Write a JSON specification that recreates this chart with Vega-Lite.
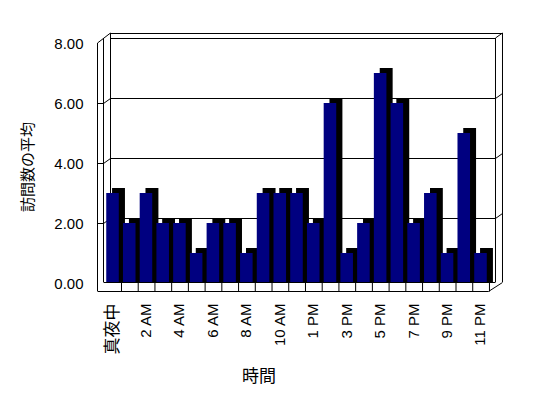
{
  "$schema": "https://vega.github.io/schema/vega-lite/v6.json",
  "width": 385,
  "height": 240,
  "autosize": "none",
  "padding": {"left": 110, "top": 38, "right": 53, "bottom": 120},
  "background": "white",
  "config": {
    "view": {"stroke": null},
    "font": "Liberation Sans, Noto Sans CJK JP",
    "rule": {"color": "black", "strokeWidth": 1}
  },
  "datasets": {
    "main": [
      {"hour": "真夜中", "visits": 3},
      {"hour": "1 AM", "visits": 2},
      {"hour": "2 AM", "visits": 3},
      {"hour": "3 AM", "visits": 2},
      {"hour": "4 AM", "visits": 2},
      {"hour": "5 AM", "visits": 1},
      {"hour": "6 AM", "visits": 2},
      {"hour": "7 AM", "visits": 2},
      {"hour": "8 AM", "visits": 1},
      {"hour": "9 AM", "visits": 3},
      {"hour": "10 AM", "visits": 3},
      {"hour": "11 AM", "visits": 3},
      {"hour": "1 PM", "visits": 2},
      {"hour": "2 PM", "visits": 6},
      {"hour": "3 PM", "visits": 1},
      {"hour": "4 PM", "visits": 2},
      {"hour": "5 PM", "visits": 7},
      {"hour": "6 PM", "visits": 6},
      {"hour": "7 PM", "visits": 2},
      {"hour": "8 PM", "visits": 3},
      {"hour": "9 PM", "visits": 1},
      {"hour": "10 PM", "visits": 5},
      {"hour": "11 PM", "visits": 1}
    ],
    "grid": [{"g": 2}, {"g": 4}, {"g": 6}, {"g": 8}],
    "inner": [{"g": 2}, {"g": 4}, {"g": 6}],
    "one": [{}]
  },
  "layer": [
    {
      "data": {"name": "main"},
      "mark": {"type": "bar", "color": "black", "y2Offset": 4},
      "encoding": {
        "x": {
          "field": "hour",
          "type": "nominal",
          "sort": null,
          "scale": {
            "type": "band",
            "domain": ["真夜中", "1 AM", "2 AM", "3 AM", "4 AM", "5 AM", "6 AM", "7 AM", "8 AM", "9 AM", "10 AM", "11 AM", "1 PM", "2 PM", "3 PM", "4 PM", "5 PM", "6 PM", "7 PM", "8 PM", "9 PM", "10 PM", "11 PM"],
            "paddingInner": 0.25,
            "paddingOuter": 0.134
          },
          "axis": {
            "offset": 13,
            "position": -6,
            "ticks": false,
            "domain": false,
            "grid": false,
            "labelAngle": -90,
            "labelPadding": 12,
            "labelFontSize": {"condition": {"test": "datum.value == '真夜中'", "value": 17}, "value": 15},
            "labelColor": "black",
            "labelOverlap": false,
            "labelExpr": "indexof(['真夜中','2 AM','4 AM','6 AM','8 AM','10 AM','1 PM','3 PM','5 PM','7 PM','9 PM','11 PM'], datum.value) >= 0 ? datum.label : ''",
            "title": "時間",
            "titleFontSize": 17,
            "titleFontWeight": "normal",
            "titleColor": "black",
            "titleX": 154.5,
            "titleY": 85.5,
            "titleAlign": "center",
            "titleBaseline": "middle",
            "titleAngle": 0
          }
        },
        "y": {
          "field": "visits",
          "type": "quantitative",
          "scale": {"domain": [0, 8], "nice": false},
          "axis": {
            "values": [0, 2, 4, 6, 8],
            "format": ".2f",
            "offset": 13,
            "position": 5,
            "ticks": false,
            "domain": false,
            "grid": false,
            "labelPadding": 14,
            "labelFontSize": 15,
            "labelColor": "black",
            "title": "訪問数の平均",
            "titleFontSize": 15,
            "titleFontWeight": "normal",
            "titleColor": "black",
            "titleX": -69.5,
            "titleY": 123.5,
            "titleAngle": 270,
            "titleAlign": "center",
            "titleBaseline": "middle"
          }
        },
        "y2": {"datum": 0}
      }
    },
    {
      "data": {"name": "grid"},
      "mark": {"type": "rule", "yOffset": 0.5, "xOffset": -8, "x2Offset": 9},
      "encoding": {
        "y": {"field": "g", "type": "quantitative"},
        "x": {"datum": "真夜中", "type": "nominal"},
        "x2": {"datum": "11 PM"}
      }
    },
    {
      "data": {"name": "inner"},
      "mark": {"type": "rule", "xOffset": -15, "x2Offset": -8, "yOffset": 5.5, "y2Offset": 0.5},
      "encoding": {
        "y": {"field": "g", "type": "quantitative"},
        "y2": {"field": "g"},
        "x": {"datum": "真夜中", "type": "nominal"},
        "x2": {"datum": "真夜中"}
      }
    },
    {
      "data": {"name": "inner"},
      "mark": {"type": "rule", "xOffset": -21, "x2Offset": -15, "yOffset": 5.5},
      "encoding": {
        "y": {"field": "g", "type": "quantitative"},
        "x": {"datum": "真夜中", "type": "nominal"},
        "x2": {"datum": "真夜中"}
      }
    },
    {
      "data": {"name": "inner"},
      "mark": {"type": "rule", "xOffset": 9, "x2Offset": 16, "yOffset": 0.5, "y2Offset": -4.5},
      "encoding": {
        "y": {"field": "g", "type": "quantitative"},
        "y2": {"field": "g"},
        "x": {"datum": "11 PM", "type": "nominal"},
        "x2": {"datum": "11 PM"}
      }
    },
    {
      "data": {"name": "one"},
      "mark": {"type": "rule", "xOffset": -21, "yOffset": 5, "y2Offset": 13},
      "encoding": {
        "x": {"datum": "真夜中", "type": "nominal"},
        "y": {"datum": 8, "type": "quantitative"},
        "y2": {"datum": 0}
      }
    },
    {
      "data": {"name": "one"},
      "mark": {"type": "rule", "xOffset": -15, "y2Offset": 4},
      "encoding": {
        "x": {"datum": "真夜中", "type": "nominal"},
        "y": {"datum": 8, "type": "quantitative"},
        "y2": {"datum": 0}
      }
    },
    {
      "data": {"name": "one"},
      "mark": {"type": "rule", "xOffset": -8, "yOffset": -5, "y2Offset": 4},
      "encoding": {
        "x": {"datum": "真夜中", "type": "nominal"},
        "y": {"datum": 8, "type": "quantitative"},
        "y2": {"datum": 0}
      }
    },
    {
      "data": {"name": "one"},
      "mark": {"type": "rule", "xOffset": 9, "y2Offset": 4},
      "encoding": {
        "x": {"datum": "11 PM", "type": "nominal"},
        "y": {"datum": 8, "type": "quantitative"},
        "y2": {"datum": 0}
      }
    },
    {
      "data": {"name": "one"},
      "mark": {"type": "rule", "xOffset": 16, "yOffset": -5, "y2Offset": 4},
      "encoding": {
        "x": {"datum": "11 PM", "type": "nominal"},
        "y": {"datum": 8, "type": "quantitative"},
        "y2": {"datum": 0}
      }
    },
    {
      "data": {"name": "one"},
      "mark": {"type": "rule", "yOffset": -4.5, "xOffset": -8, "x2Offset": 16},
      "encoding": {
        "y": {"datum": 8, "type": "quantitative"},
        "x": {"datum": "真夜中", "type": "nominal"},
        "x2": {"datum": "11 PM"}
      }
    },
    {
      "data": {"name": "one"},
      "mark": {"type": "rule", "xOffset": -21, "x2Offset": -8, "yOffset": 5, "y2Offset": -5},
      "encoding": {
        "x": {"datum": "真夜中", "type": "nominal"},
        "x2": {"datum": "真夜中"},
        "y": {"datum": 8, "type": "quantitative"},
        "y2": {"datum": 8}
      }
    },
    {
      "data": {"name": "one"},
      "mark": {"type": "rule", "xOffset": 9, "x2Offset": 16, "yOffset": 0, "y2Offset": -5},
      "encoding": {
        "x": {"datum": "11 PM", "type": "nominal"},
        "x2": {"datum": "11 PM"},
        "y": {"datum": 8, "type": "quantitative"},
        "y2": {"datum": 8}
      }
    },
    {
      "data": {"name": "one"},
      "mark": {"type": "rule", "yOffset": 13.5, "xOffset": -21, "x2Offset": 2},
      "encoding": {
        "y": {"datum": 0, "type": "quantitative"},
        "x": {"datum": "真夜中", "type": "nominal"},
        "x2": {"datum": "11 PM"}
      }
    },
    {
      "data": {"name": "one"},
      "mark": {"type": "rule", "yOffset": 4.5, "xOffset": -15, "x2Offset": 9},
      "encoding": {
        "y": {"datum": 0, "type": "quantitative"},
        "x": {"datum": "真夜中", "type": "nominal"},
        "x2": {"datum": "11 PM"}
      }
    },
    {
      "data": {"name": "one"},
      "mark": {"type": "rule", "xOffset": 2, "x2Offset": 16, "yOffset": 13.5, "y2Offset": 4.5},
      "encoding": {
        "x": {"datum": "11 PM", "type": "nominal"},
        "x2": {"datum": "11 PM"},
        "y": {"datum": 0, "type": "quantitative"},
        "y2": {"datum": 0}
      }
    },
    {
      "data": {"name": "main"},
      "mark": {"type": "bar", "color": "black", "y2Offset": 4},
      "encoding": {
        "x": {"field": "hour", "type": "nominal", "sort": null},
        "y": {"field": "visits", "type": "quantitative"},
        "y2": {"datum": 0}
      }
    },
    {
      "data": {"name": "main"},
      "mark": {"type": "bar", "color": "#000080", "xOffset": -6, "yOffset": 5, "y2Offset": 4},
      "encoding": {
        "x": {"field": "hour", "type": "nominal", "sort": null},
        "y": {"field": "visits", "type": "quantitative"},
        "y2": {"datum": 0}
      }
    },
    {
      "data": {"name": "main"},
      "mark": {"type": "rule", "xOffset": -3.3, "yOffset": 4.5, "y2Offset": 13.5},
      "encoding": {
        "x": {"field": "hour", "type": "nominal", "sort": null, "bandPosition": 1},
        "y": {"datum": 0, "type": "quantitative"},
        "y2": {"datum": 0}
      }
    }
  ]
}
